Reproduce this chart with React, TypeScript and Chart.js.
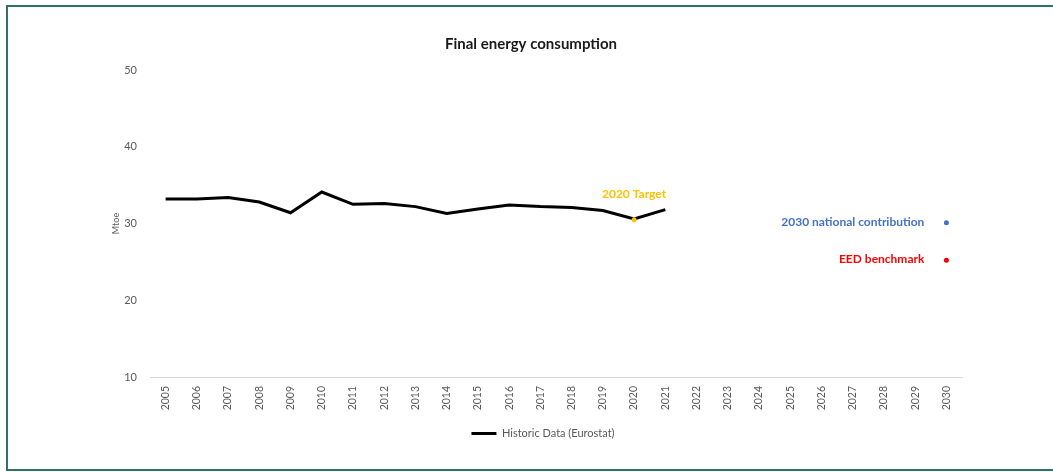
import React, { useEffect, useRef } from "react";
import { Chart, registerables } from "chart.js";

Chart.register(...registerables);

const years = [
  "2005", "2006", "2007", "2008", "2009", "2010", "2011", "2012", "2013",
  "2014", "2015", "2016", "2017", "2018", "2019", "2020", "2021", "2022",
  "2023", "2024", "2025", "2026", "2027", "2028", "2029", "2030",
];

const historicYears = [
  "2005", "2006", "2007", "2008", "2009", "2010", "2011", "2012", "2013",
  "2014", "2015", "2016", "2017", "2018", "2019", "2020", "2021",
];
const historicValues = [
  33.2, 33.2, 33.4, 32.8, 31.4, 34.1, 32.5, 32.6, 32.2, 31.3, 31.9, 32.4,
  32.2, 32.1, 31.7, 30.6, 31.8,
];

const targetYear = "2020";
const targetValue = 30.5;
const nationalYear = "2030";
const nationalValue = 30.1;
const eedYear = "2030";
const eedValue = 25.2;

const yMin = 10;
const yMax = 50;
const yStep = 10;

const FONT = "Lato, 'Open Sans', sans-serif";
const GREY = "#595959";

function seriesFor(labelYears: string[], vals: number[]) {
  return years.map((y) => {
    const i = labelYears.indexOf(y);
    return i >= 0 ? vals[i] : null;
  });
}

const pointLabelPlugin = {
  id: "pointLabelPlugin",
  afterDatasetsDraw(chart: any) {
    const ctx = chart.ctx;
    chart.data.datasets.forEach((ds: any, i: number) => {
      if (!ds.pointLabel) return;
      const meta = chart.getDatasetMeta(i);
      meta.data.forEach((pt: any, j: number) => {
        if (ds.data[j] == null) return;
        ctx.save();
        ctx.font = `bold 12px ${FONT}`;
        ctx.fillStyle = ds.pointLabelColor;
        ctx.textBaseline = "middle";
        if (ds.pointLabelPos === "above") {
          ctx.textAlign = "center";
          ctx.fillText(ds.pointLabel, pt.x, pt.y - 26);
        } else {
          ctx.textAlign = "right";
          ctx.fillText(ds.pointLabel, pt.x - 22, pt.y - 1);
        }
        ctx.restore();
      });
    });
  },
};

const legendShiftPlugin = {
  id: "legendShiftPlugin",
  afterLayout(chart: any) {
    if (chart.legend) {
      chart.legend.left += 12;
      chart.legend.right += 12;
    }
  },
};

export default function App() {
  const ref = useRef<HTMLCanvasElement | null>(null);

  useEffect(() => {
    if (!ref.current) return;
    const chart = new Chart(ref.current, {
      type: "line",
      data: {
        labels: years,
        datasets: [
          {
            label: "Historic Data (Eurostat)",
            data: seriesFor(historicYears, historicValues),
            borderColor: "#000000",
            backgroundColor: "#000000",
            borderWidth: 3,
            pointRadius: 0,
            pointStyle: "line",
            tension: 0,
            order: 1,
          } as any,
          {
            label: "2020 Target",
            data: seriesFor([targetYear], [targetValue]),
            borderColor: "#FFC000",
            backgroundColor: "#FFC000",
            showLine: false,
            pointRadius: 2.5,
            pointBorderWidth: 0,
            pointLabel: "2020 Target",
            pointLabelColor: "#FFC000",
            pointLabelPos: "above",
            order: 0,
          } as any,
          {
            label: "2030 national contribution",
            data: seriesFor([nationalYear], [nationalValue]),
            borderColor: "#4472C4",
            backgroundColor: "#4472C4",
            showLine: false,
            pointRadius: 2.5,
            pointBorderWidth: 0,
            pointLabel: "2030 national contribution",
            pointLabelColor: "#4472C4",
            pointLabelPos: "left",
            order: 0,
          } as any,
          {
            label: "EED benchmark",
            data: seriesFor([eedYear], [eedValue]),
            borderColor: "#FF0000",
            backgroundColor: "#FF0000",
            showLine: false,
            pointRadius: 2.5,
            pointBorderWidth: 0,
            pointLabel: "EED benchmark",
            pointLabelColor: "#FF0000",
            pointLabelPos: "left",
            order: 0,
          } as any,
        ],
      },
      options: {
        responsive: false,
        animation: false,
        layout: { padding: { left: 100, right: 91, top: 25, bottom: 23 } },
        plugins: {
          tooltip: { enabled: false },
          title: {
            display: true,
            text: "Final energy consumption",
            color: "#1a1a1a",
            font: { family: FONT, size: 15, weight: "bold", lineHeight: 1.2 },
            padding: { top: 10, bottom: 17 },
          },
          legend: {
            display: true,
            position: "bottom",
            labels: {
              filter: (item: any) => item.datasetIndex === 0,
              usePointStyle: true,
              pointStyleWidth: 25,
              boxHeight: 9,
              padding: 10,
              color: GREY,
              font: { family: FONT, size: 11 },
            },
          },
        },
        scales: {
          x: {
            offset: true,
            grid: { display: false, drawTicks: false },
            border: { display: true, color: "#d9d9d9", width: 1 },
            ticks: {
              autoSkip: false,
              maxRotation: 90,
              minRotation: 90,
              padding: 9,
              color: GREY,
              font: { family: FONT, size: 10.5 },
            },
            afterFit: (scale: any) => {
              scale.height = 41;
            },
          },
          y: {
            min: yMin,
            max: yMax,
            grid: { display: false, drawTicks: false },
            border: { display: false },
            ticks: {
              stepSize: yStep,
              padding: 13,
              color: GREY,
              font: { family: FONT, size: 11 },
            },
            title: {
              display: true,
              text: "Mtoe",
              color: GREY,
              font: { family: FONT, size: 9 },
              padding: { top: 11, bottom: 0 },
            },
            afterFit: (scale: any) => {
              scale.width = 50;
            },
          },
        },
      },
      plugins: [pointLabelPlugin, legendShiftPlugin],
    });
    return () => chart.destroy();
  }, []);

  return (
    <div
      style={{
        position: "fixed",
        left: 0,
        top: 0,
        width: 1053,
        height: 472,
        background: "#ffffff",
        overflow: "hidden",
      }}
    >
      <canvas ref={ref} width={1053} height={472} style={{ position: "absolute", left: 0, top: 0 }} />
      <div
        style={{
          position: "absolute",
          left: 6,
          top: 5,
          width: 1060,
          height: 462,
          borderLeft: "2px solid #336f63",
          borderTop: "2px solid #336f63",
          borderBottom: "2px solid #336f63",
          pointerEvents: "none",
        }}
      />
    </div>
  );
}
